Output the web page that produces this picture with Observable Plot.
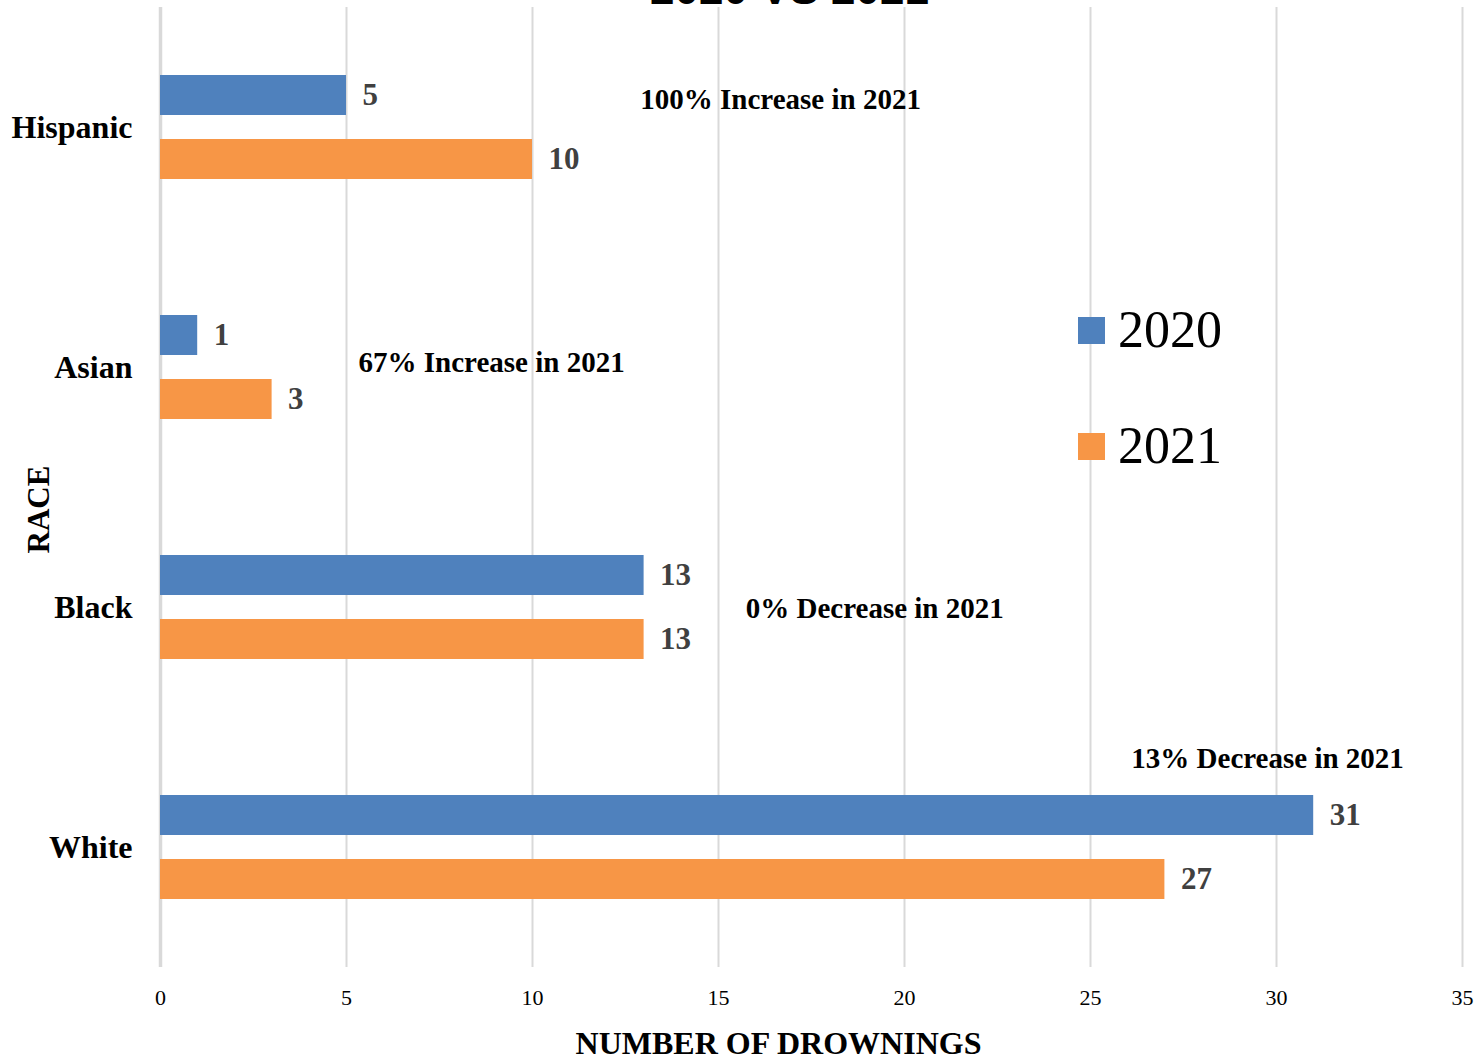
<!DOCTYPE html>
<html>
<head>
<meta charset="utf-8">
<script src="https://cdn.jsdelivr.net/npm/d3@7"></script>
<script src="https://cdn.jsdelivr.net/npm/@observablehq/plot@0.6"></script>
<style>
  html, body { margin: 0; padding: 0; background: #fff; overflow: hidden; }
  #wrap { position: relative; width: 1479px; height: 1060px; }
  #title { position: absolute; left: 0; width: 1579px; top: -33px; text-align: center;
    font-family: "Liberation Sans", sans-serif; font-weight: bold; font-size: 44px; line-height: 44px; color: #000; }
  .leg { position: absolute; left: 1078px; display: flex; align-items: center;
    font-family: "Liberation Serif", serif; font-size: 52px; line-height: 52px; color: #000; }
  .leg span.sw { display: inline-block; width: 27px; height: 27px; margin-right: 13px; }
</style>
</head>
<body>
<div id="wrap">
  <div id="chart"></div>
  <div id="title">2020 VS 2021</div>
  <div class="leg" style="top:304px"><span class="sw" style="background:#4F81BD"></span>2020</div>
  <div class="leg" style="top:420px"><span class="sw" style="background:#F79646"></span>2021</div>
</div>
<script>
// ---- data ----
const races = ["Hispanic", "Asian", "Black", "White"];
const years = [2020, 2021];
const counts2020 = [5, 1, 13, 31];
const counts2021 = [10, 3, 13, 27];
const annotationLabels = ["100% Increase in 2021", "67% Increase in 2021", "0% Decrease in 2021", "13% Decrease in 2021"];
const annotationX = [16.67, 8.9, 19.2, 29.76];   // centre of each note, in drownings
const xTicks = [0, 5, 10, 15, 20, 25, 30, 35];
const colors = ["#4F81BD", "#F79646"];

const rows = [];
races.forEach((r, i) => {
  rows.push({race: r, year: 2020, count: counts2020[i]});
  rows.push({race: r, year: 2021, count: counts2021[i]});
});
const annotations = races.map((r, i) => ({race: r, label: annotationLabels[i], x: annotationX[i]}));
const annoDy = [4, 27, 33, -57];

const serif = "Liberation Serif";

const chart = Plot.plot({
  width: 1479,
  height: 1060,
  marginLeft: 160,
  marginRight: 17,
  marginTop: 5,
  marginBottom: 92,
  style: {fontFamily: serif, background: "white", overflow: "visible"},
  x: {domain: [0, 35], axis: null},
  y: {domain: years, axis: null, paddingInner: 0.37, paddingOuter: 1.04},
  fy: {domain: races, padding: 0, axis: null},
  color: {domain: years, range: colors},
  marks: [
    Plot.gridX(xTicks, {stroke: "#d9d9d9", strokeOpacity: 1, strokeWidth: 2}),
    Plot.ruleX([0], {stroke: "#d9d9d9", strokeWidth: 3.5}),
    Plot.barX(rows, {fy: "race", y: "year", x: "count", fill: "year"}),
    Plot.text(rows, {fy: "race", y: "year", x: "count", text: d => String(d.count),
      textAnchor: "start", dx: 16, fill: "#404040", fontWeight: "bold", fontSize: 31}),
    ...annotations.map((a, i) => Plot.text([a], {fy: "race", y: () => 2020, x: "x", text: "label",
      textAnchor: "middle", dy: annoDy[i], fill: "#000", fontWeight: "bold", fontSize: 29})),
    Plot.axisFy({anchor: "left", tickSize: 0, tickPadding: 28, fontSize: 32, fontWeight: "bold", fill: "#000", label: null}),
    Plot.axisX({ticks: xTicks, anchor: "bottom", tickSize: 0, tickPadding: 22, fontSize: 22, fill: "#000", label: null}),
    Plot.text(["NUMBER OF DROWNINGS"], {frameAnchor: "bottom", dx: -33, dy: 86, fontSize: 32, fontWeight: "bold", fill: "#000", facet: "super"}),
    Plot.text(["RACE"], {frameAnchor: "left", textAnchor: "middle", rotate: -90, dx: -121, dy: 22, fontSize: 31, fontWeight: "bold", fill: "#000", facet: "super"})
  ]
});
document.getElementById("chart").appendChild(chart);
</script>
</body>
</html>
